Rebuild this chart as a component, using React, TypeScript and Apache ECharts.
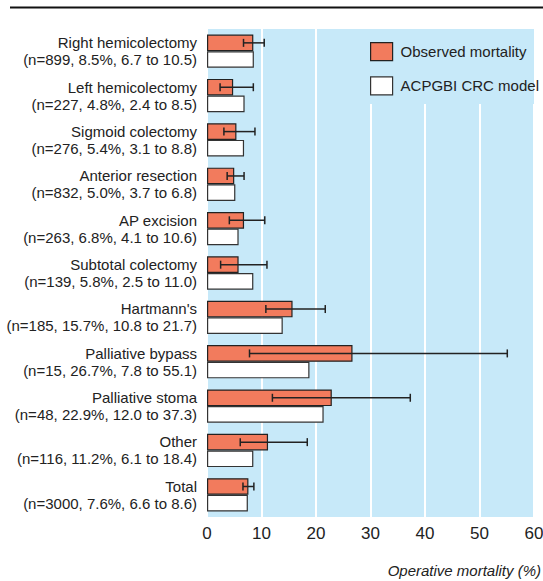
import React, { useEffect, useRef } from "react";
import * as echarts from "echarts";

const categories = [
  "Right hemicolectomy",
  "Left hemicolectomy",
  "Sigmoid colectomy",
  "Anterior resection",
  "AP excision",
  "Subtotal colectomy",
  "Hartmann's",
  "Palliative bypass",
  "Palliative stoma",
  "Other",
  "Total",
];
const counts = [899, 227, 276, 832, 263, 139, 185, 15, 48, 116, 3000];
const observed = [8.5, 4.8, 5.4, 5.0, 6.8, 5.8, 15.7, 26.7, 22.9, 11.2, 7.6];
const ciLow = [6.7, 2.4, 3.1, 3.7, 4.1, 2.5, 10.8, 7.8, 12.0, 6.1, 6.6];
const ciHigh = [10.5, 8.5, 8.8, 6.8, 10.6, 11.0, 21.7, 55.1, 37.3, 18.4, 8.6];
const model = [8.6, 6.9, 6.8, 5.2, 5.8, 8.5, 13.9, 18.8, 21.4, 8.5, 7.5];
const xTicks = [0, 10, 20, 30, 40, 50, 60];

const FONT = "'Liberation Sans', Arial, sans-serif";
const ORANGE = "#F27B5D";
const BLUE = "#C7E9F9";

export default function App() {
  const ref = useRef<HTMLDivElement>(null);
  useEffect(() => {
    if (!ref.current) return;
    const chart = echarts.init(ref.current, undefined, { renderer: "svg" });
    const labels = categories.map(
      (c, i) =>
        `${c}\n(n=${counts[i]}, ${observed[i].toFixed(1)}%, ${ciLow[i].toFixed(1)} to ${ciHigh[i].toFixed(1)})`
    );
    const errData = categories.map((_, i) => [i, ciLow[i], ciHigh[i]]);
    chart.setOption({
      animation: false,
      grid: {
        left: 207,
        right: 9,
        top: 29,
        bottom: 64,
        show: true,
        backgroundColor: BLUE,
        borderWidth: 0,
        containLabel: false,
        outerBoundsMode: "none",
      },
      xAxis: {
        type: "value",
        min: 0,
        max: 60,
        interval: 10,
        axisLine: { show: false },
        axisTick: { show: false },
        axisLabel: {
          fontFamily: FONT,
          fontSize: 17,
          color: "#222",
          margin: 8,
          formatter: (v: number) => (xTicks.includes(v) ? String(v) : ""),
        },
        splitLine: { show: true, lineStyle: { color: "#ffffff", width: 2 } },
      },
      yAxis: {
        type: "category",
        inverse: true,
        data: labels,
        axisLine: { show: false },
        axisTick: { show: false },
        axisLabel: {
          fontFamily: FONT,
          fontSize: 15,
          lineHeight: 17,
          color: "#222",
          align: "right",
          margin: 10,
        },
      },
      legend: {
        orient: "vertical",
        left: 370,
        top: 42,
        padding: 0,
        icon: "rect",
        itemWidth: 22,
        itemHeight: 18,
        itemGap: 15,
        itemStyle: { borderWidth: 1.2 },
        z: 10,
        textStyle: { fontFamily: FONT, fontSize: 15, color: "#222", padding: [0, 0, 0, 3] },
        data: ["Observed mortality", "ACPGBI CRC model"],
      },
      graphic: [
        {
          type: "rect",
          z: 1,
          shape: { x: 319, y: 29, width: 215, height: 75 },
          style: { fill: BLUE },
        },
        {
          type: "line",
          z: 1,
          shape: { x1: 10, y1: 7.5, x2: 543, y2: 7.5 },
          style: { stroke: "#111", lineWidth: 2 },
        },
        {
          type: "text",
          right: 2,
          top: 563,
          style: {
            text: "Operative mortality (%)",
            fontFamily: FONT,
            fontSize: 15,
            fontStyle: "italic",
            fill: "#222",
          },
        },
      ],
      series: [
        {
          name: "Observed mortality",
          type: "bar",
          data: observed,
          barGap: "0%",
          barCategoryGap: "25%",
          z: 3,
          itemStyle: { color: ORANGE, borderColor: "#222", borderWidth: 1.2 },
        },
        {
          name: "ACPGBI CRC model",
          type: "bar",
          data: model,
          z: 3,
          itemStyle: { color: "#ffffff", borderColor: "#333", borderWidth: 1.2 },
        },
        {
          type: "custom",
          z: 5,
          data: errData,
          encode: { x: [1, 2], y: 0 },
          renderItem: (params: any, api: any) => {
            const idx = api.value(0);
            const lo = api.coord([api.value(1), idx]);
            const hi = api.coord([api.value(2), idx]);
            const band = api.size([0, 1])[1];
            const y = lo[1] - band * 0.1875;
            const cap = 4;
            const st = { stroke: "#222", lineWidth: 1.5 };
            return {
              type: "group",
              children: [
                { type: "line", shape: { x1: lo[0], y1: y, x2: hi[0], y2: y }, style: st },
                { type: "line", shape: { x1: lo[0], y1: y - cap, x2: lo[0], y2: y + cap }, style: st },
                { type: "line", shape: { x1: hi[0], y1: y - cap, x2: hi[0], y2: y + cap }, style: st },
              ],
            };
          },
        },
      ],
    });
    return () => chart.dispose();
  }, []);
  return <div ref={ref} style={{ width: 543, height: 581, position: "absolute", left: 0, top: 0 }} />;
}
